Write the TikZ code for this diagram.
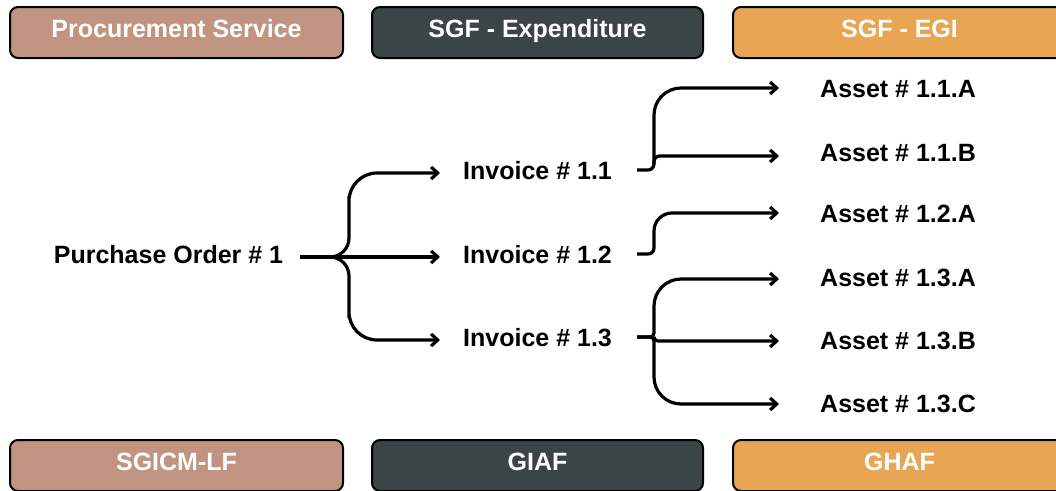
\documentclass[tikz,border=0pt]{standalone}
\usepackage{fontspec}
\setmainfont{Liberation Sans}
\usetikzlibrary{arrows.meta}

\definecolor{brownbox}{RGB}{192,148,128}
\definecolor{slatebox}{RGB}{59,69,70}
\definecolor{orangebox}{RGB}{232,166,84}

\tikzset{
  lbl/.style={font=\bfseries\fontsize{25}{30}\selectfont, inner sep=0pt,
              text height=18pt, text depth=0pt},
  hdr/.style={draw=black, line width=2pt, rounded corners=8pt,
              minimum width=333pt, minimum height=51pt, inner sep=0pt,
              text=white, font=\bfseries\fontsize{25}{30}\selectfont,
              text height=18pt, text depth=8pt},
  link/.style={line width=3.2pt},
  arrowed/.style={link, -{Straight Barb[length=6.5pt,width=12pt]}},
  toinv/.style={arrowed, shorten >=23pt},
  toasset/.style={arrowed, shorten >=41pt},
  frompo/.style={shorten <=17pt},
  frominv/.style={shorten <=25pt},
}

\begin{document}
\begin{tikzpicture}[x=1pt,y=-1pt]
\useasboundingbox (0,0) rectangle (1056,490);
\clip (0,0) rectangle (1056,490);

% department boxes, top and bottom rows
\node[hdr, fill=brownbox]  (procsvc) at (176.5,32.5) {Procurement Service};
\node[hdr, fill=slatebox, minimum width=331pt] (sgfexp) at (537.5,32.5) {SGF - Expenditure};
\node[hdr, fill=orangebox] (sgfegi) at (899.5,32.5) {SGF - EGI};
\node[hdr, fill=brownbox]  (sgicm) at (176.5,465.5) {SGICM-LF};
\node[hdr, fill=slatebox, minimum width=331pt] (giaf) at (537.5,465.5) {GIAF};
\node[hdr, fill=orangebox] (ghaf) at (899.5,465.5) {GHAF};

% documents
\node[lbl] (po) at (168.5,254) {Purchase Order \# 1};
\node[lbl, anchor=west] (inv11) at (463,170) {Invoice \# 1.1};
\node[lbl, anchor=west] (inv12) at (463,254) {Invoice \# 1.2};
\node[lbl, anchor=west] (inv13) at (463,337) {Invoice \# 1.3};
\node[lbl, anchor=west] (a11A) at (820,88)  {Asset \# 1.1.A};
\node[lbl, anchor=west] (a11B) at (820,152) {Asset \# 1.1.B};
\node[lbl, anchor=west] (a12A) at (820,213) {Asset \# 1.2.A};
\node[lbl, anchor=west] (a13A) at (820,277) {Asset \# 1.3.A};
\node[lbl, anchor=west] (a13B) at (820,340) {Asset \# 1.3.B};
\node[lbl, anchor=west] (a13C) at (820,403) {Asset \# 1.3.C};

% fork points
\coordinate (j0)  at (349,257);
\coordinate (j0u) at (349,215);
\coordinate (j0d) at (349,299);
\coordinate (k1)  at (654,170);
\coordinate (k1u) at (654,130);
\coordinate (k2)  at (654,254);
\coordinate (k2u) at (654,236);
\coordinate (k3)  at (654,337);
\coordinate (k3u) at (654,318);
\coordinate (k3d) at (654,356);

% purchase order -> invoices
\draw[toinv, frompo] ([yshift=-3pt]po.east) [rounded corners=19pt] -- (j0) -- (j0u)
      [rounded corners=28pt] |- ([yshift=-3pt]inv11.west);
\draw[toinv, frompo] ([yshift=-3pt]po.east) -- ([yshift=-3pt]inv12.west);
\draw[toinv, frompo] ([yshift=-3pt]po.east) [rounded corners=19pt] -- (j0) -- (j0d)
      [rounded corners=28pt] |- ([yshift=-3pt]inv13.west);

% invoice 1.1 -> assets
\draw[toasset, frominv] (inv11.east) [rounded corners=6pt] -- (k1) -- (k1u)
      [rounded corners=27pt] |- (a11A.west);
\draw[toasset, rounded corners=5pt] ([yshift=6pt]k1) |- ([yshift=-4pt]a11B.west);

% invoice 1.2 -> asset
\draw[toasset, frominv] (inv12.east) [rounded corners=6pt] -- (k2) -- (k2u)
      [rounded corners=18pt] |- (a12A.west);

% invoice 1.3 -> assets
\draw[toasset, frominv] (inv13.east) [rounded corners=4pt] -- (k3) -- (k3u)
      [rounded corners=27pt] |- ([yshift=-2pt]a13A.west);
\draw[toasset, rounded corners=4pt] (k3) |- ([yshift=-1pt]a13B.west);
\draw[toasset, frominv] (inv13.east) [rounded corners=4pt] -- (k3) -- (k3d)
      [rounded corners=27pt] |- ([yshift=-1pt]a13C.west);
\end{tikzpicture}
\end{document}
